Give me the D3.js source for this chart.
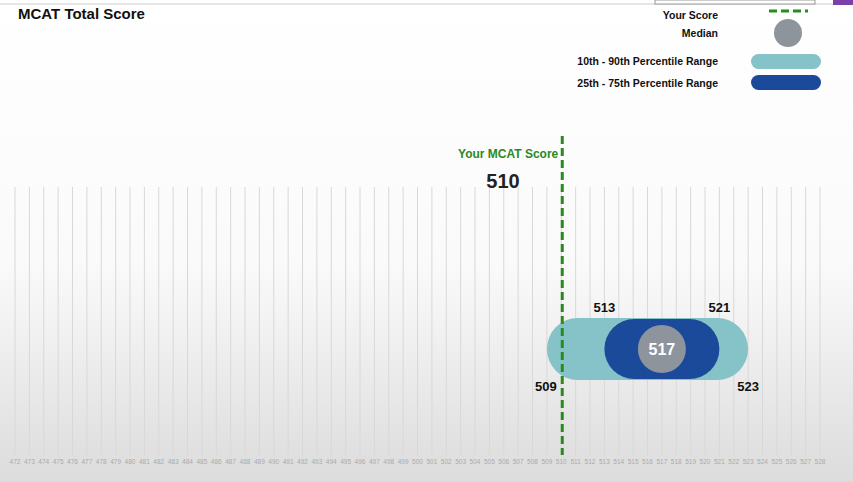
<!DOCTYPE html><html><head><meta charset="utf-8">
<script src="https://cdn.jsdelivr.net/npm/d3@7"></script>
<style>body{margin:0;font-family:Arial,"Liberation Sans",sans-serif}</style></head><body>
<script>
const ticks = d3.range(472, 529);
const yourScore = 510;
const median = 517;
const range10_90 = [509, 523];
const range25_75 = [513, 521];
const legendItems = ["Your Score","Median","10th - 90th Percentile Range","25th - 75th Percentile Range"];

const W=853,H=482;
const svg=d3.select("body").append("svg").attr("width",W).attr("height",H);
const defs=svg.append("defs");
const g=defs.append("linearGradient").attr("id","bg").attr("x1",0).attr("x2",0).attr("y1",0).attr("y2",1);
g.append("stop").attr("offset","0%").attr("stop-color","#fff");
g.append("stop").attr("offset","55%").attr("stop-color","#fafafa");
g.append("stop").attr("offset","100%").attr("stop-color","#dcdcdc");
svg.append("rect").attr("width",W).attr("height",H).attr("fill","url(#bg)");
svg.append("line").attr("x1",0).attr("x2",W).attr("y1",4).attr("y2",4).attr("stroke","#ccc");

const x=d3.scaleLinear().domain([472,528]).range([15,820]);
const gridTop=187,gridBot=455;
svg.append("g").selectAll("line").data(ticks).join("line")
 .attr("x1",d=>x(d)).attr("x2",d=>x(d)).attr("y1",gridTop).attr("y2",gridBot)
 .attr("stroke","#d8d8d8").attr("stroke-width",1);
svg.append("g").selectAll("text").data(ticks).join("text")
 .attr("x",d=>x(d)).attr("y",464).attr("text-anchor","middle")
 .attr("font-size",6.5).attr("fill","#aaa").text(d=>d);

svg.append("text").attr("x",18).attr("y",19).attr("font-size",15).attr("font-weight","bold").attr("fill","#111").text("MCAT Total Score");

const cy=349;
svg.append("rect").attr("x",x(range10_90[0])).attr("width",x(range10_90[1])-x(range10_90[0]))
 .attr("y",cy-31).attr("height",62).attr("rx",31).attr("fill","#86c3c9");
svg.append("rect").attr("x",x(range25_75[0])).attr("width",x(range25_75[1])-x(range25_75[0]))
 .attr("y",cy-30).attr("height",60).attr("rx",30).attr("fill","#1c4a9b");
svg.append("circle").attr("cx",x(median)).attr("cy",cy).attr("r",24).attr("fill","#8d949c");
svg.append("text").attr("x",x(median)).attr("y",cy+6).attr("text-anchor","middle").attr("font-size",16).attr("font-weight","bold").attr("fill","#fff").text(median);

const lab=(t,xx,yy,a)=>svg.append("text").attr("x",xx).attr("y",yy).attr("text-anchor",a).attr("font-size",13).attr("font-weight","bold").attr("fill","#111").text(t);
lab(range25_75[0],x(range25_75[0]),312,"middle");
lab(range25_75[1],x(range25_75[1]),312,"middle");
lab(range10_90[0],x(range10_90[0])-1,391,"middle");
lab(range10_90[1],x(range10_90[1]),391,"middle");

svg.append("line").attr("x1",x(yourScore)+1).attr("x2",x(yourScore)+1).attr("y1",136).attr("y2",455)
 .attr("stroke","#2a8a1e").attr("stroke-width",3).attr("stroke-dasharray","8,4");
svg.append("text").attr("x",x(yourScore)-3).attr("y",158).attr("text-anchor","end").attr("font-size",12).attr("font-weight","bold").attr("fill","#2a8a1e").text("Your MCAT Score");
svg.append("text").attr("x",503).attr("y",188).attr("text-anchor","middle").attr("font-size",20).attr("font-weight","bold").attr("fill","#222").text(yourScore);

const lg=svg.append("g");
const ly=[15,33,61,83];
lg.selectAll("text").data(legendItems).join("text").attr("x",718).attr("y",(d,i)=>ly[i]+4)
 .attr("text-anchor","end").attr("font-size",10.5).attr("font-weight","bold").attr("fill","#111").text(d=>d);
lg.append("line").attr("x1",769).attr("x2",808).attr("y1",11).attr("y2",11).attr("stroke","#2a8a1e").attr("stroke-width",3).attr("stroke-dasharray","8,4");
lg.append("circle").attr("cx",788).attr("cy",33).attr("r",14).attr("fill","#8d949c");
lg.append("rect").attr("x",751).attr("y",54).attr("width",70).attr("height",15).attr("rx",7.5).attr("fill","#86c3c9");
lg.append("rect").attr("x",751).attr("y",75).attr("width",70).attr("height",15).attr("rx",7.5).attr("fill","#1c4a9b");
svg.append("rect").attr("x",655).attr("y",0).attr("width",160).attr("height",4).attr("fill","#fff").attr("stroke","#999");
svg.append("rect").attr("x",833).attr("y",0).attr("width",20).attr("height",5).attr("fill","#7a3fa8");
</script></body></html>
